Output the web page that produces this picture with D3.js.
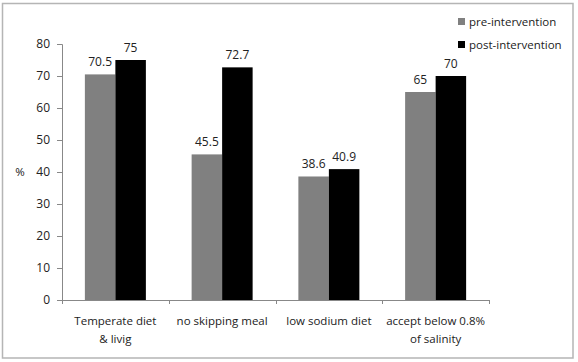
<!DOCTYPE html>
<meta charset="utf-8">
<style>
  body { margin: 0; background: #fff; }
  text { font-family: 'Open Sans', sans-serif; font-size: 11.5px; fill: #222; }
</style>
<script src="https://d3js.org/d3.v7.min.js"></script>
<body>
<svg id="chart" width="578" height="362"></svg>
<script>
// data
var categories = [["Temperate diet", "& livig"], ["no skipping meal"], ["low sodium diet"], ["accept below 0.8%", "of salinity"]];
var series = ["pre-intervention", "post-intervention"];
var preValues = [70.5, 45.5, 38.6, 65];
var postValues = [75, 72.7, 40.9, 70];
var yTicks = [0, 10, 20, 30, 40, 50, 60, 70, 80];

var colors = {"pre-intervention": "#808080", "post-intervention": "#000000"};

var svg = d3.select("#chart");

// outer frame
svg.append("rect")
  .attr("x", 2.5).attr("y", 3.5)
  .attr("width", 570.5).attr("height", 354.5)
  .attr("fill", "none")
  .attr("stroke", "#b5b5b5")
  .attr("stroke-width", 1.5);

var plotLeft = 62, plotRight = 489, plotTop = 44, plotBottom = 300;

var x = d3.scaleBand()
  .domain(d3.range(categories.length))
  .range([plotLeft, plotRight]);

// gap width 150% like excel
var barW = x.bandwidth() / 3.5;

var y = d3.scaleLinear().domain([0, 80]).range([plotBottom, plotTop]);

// y axis
var yAxis = svg.append("g")
  .attr("transform", "translate(" + plotLeft + ",0)")
  .call(d3.axisLeft(y).tickValues(yTicks).tickSize(5).tickPadding(7));
yAxis.select(".domain").attr("stroke", "#888");
yAxis.selectAll(".tick line").attr("stroke", "#888");
yAxis.selectAll("text").style("font-size", "12px").attr("fill", "#222");

svg.append("text")
  .attr("x", 20).attr("y", y(40) + 4)
  .attr("text-anchor", "middle")
  .text("%");

// x axis line and ticks at band boundaries
svg.append("line")
  .attr("x1", plotLeft).attr("x2", plotRight)
  .attr("y1", plotBottom + 0.5).attr("y2", plotBottom + 0.5)
  .attr("stroke", "#888");

svg.selectAll(".xtick")
  .data(d3.range(categories.length + 1))
  .enter().append("line")
  .attr("class", "xtick")
  .attr("x1", function(d) { return Math.round(plotLeft + d * x.step()) + 0.5; })
  .attr("x2", function(d) { return Math.round(plotLeft + d * x.step()) + 0.5; })
  .attr("y1", plotBottom).attr("y2", plotBottom + 4)
  .attr("stroke", "#888");

// category labels
var cat = svg.selectAll(".cat")
  .data(categories)
  .enter().append("text")
  .attr("class", "cat")
  .attr("text-anchor", "middle")
  .attr("x", function(d, i) { return x(i) + x.bandwidth() / 2; })
  .attr("y", 325);
cat.selectAll("tspan")
  .data(function(d) { return d; })
  .enter().append("tspan")
  .attr("x", function() { return this.parentNode.getAttribute("x"); })
  .attr("dy", function(d, i) { return i === 0 ? 0 : 18; })
  .text(function(d) { return d; });

// bars + value labels
[preValues, postValues].forEach(function(vals, s) {
  svg.selectAll(".bar" + s)
    .data(vals)
    .enter().append("rect")
    .attr("class", "bar" + s)
    .attr("x", function(d, i) { return x(i) + x.bandwidth() / 2 - barW + s * barW; })
    .attr("y", function(d) { return y(d); })
    .attr("width", barW)
    .attr("height", function(d) { return plotBottom - y(d); })
    .attr("fill", colors[series[s]]);

  svg.selectAll(".lbl" + s)
    .data(vals)
    .enter().append("text")
    .attr("class", "lbl" + s)
    .attr("text-anchor", "middle")
    .attr("x", function(d, i) { return x(i) + x.bandwidth() / 2 - barW / 2 + s * barW; })
    .attr("y", function(d) { return y(d) - 8; })
    .style("font-size", "12px")
    .text(function(d) { return d; });
});

// legend
var legend = svg.selectAll(".leg")
  .data(series)
  .enter().append("g")
  .attr("class", "leg")
  .attr("transform", function(d, i) { return "translate(458," + (18 + i * 23) + ")"; });
legend.append("rect")
  .attr("width", 7).attr("height", 7)
  .attr("fill", function(d) { return colors[d]; });
legend.append("text")
  .attr("x", 11).attr("y", 7.5)
  .text(function(d) { return d; });
</script>
</body>
